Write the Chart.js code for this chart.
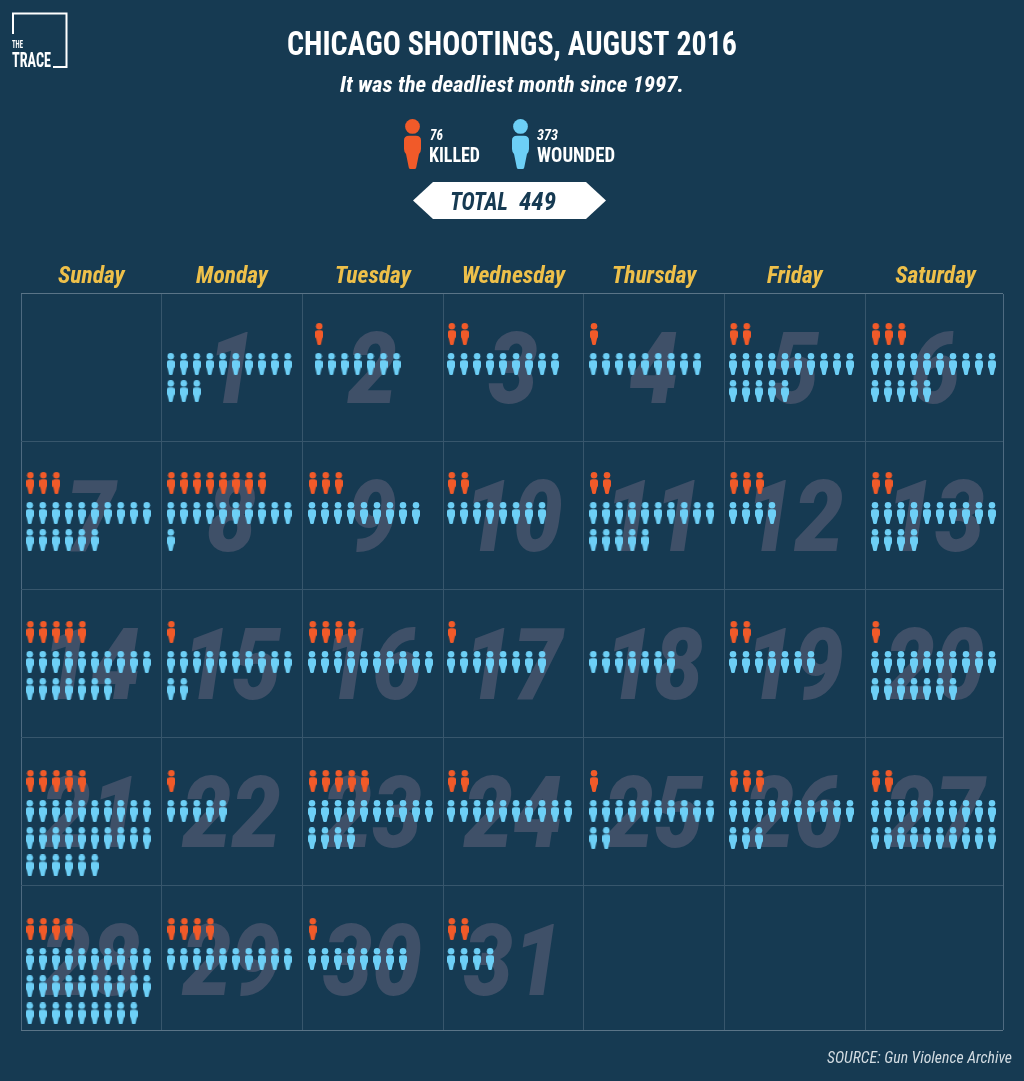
<!DOCTYPE html>
<html lang="en">
<head>
<meta charset="utf-8">
<title>Chicago Shootings, August 2016</title>
<script src="https://cdn.jsdelivr.net/npm/chart.js@4"></script>
<style>
html,body{margin:0;padding:0;background:#163a52;}
canvas{display:block;}
</style>
</head>
<body>
<canvas id="c" width="1024" height="1081"></canvas>
<script>
const weekdays = ['Sunday','Monday','Tuesday','Wednesday','Thursday','Friday','Saturday'];
const killedByDay = [0,1,2,1,2,3, 3,8,3,2,2,3,2, 5,1,4,1,0,2,1, 5,1,5,2,1,3,2, 4,4,1,2];
const woundedByDay = [13,7,9,9,15,15, 16,11,9,8,15,4,14, 17,12,10,8,7,7,17, 26,5,14,10,12,13,20, 29,10,8,4];
const firstDayColumn = 1;
const columnCount = 7;

// layout, in pixels
const FONT = '"Roboto Condensed",Roboto,sans-serif';
const BG='#163a52', RED='#f15a29', BLUE='#6dcff6', YELLOW='#eec04a', NUM='#3f5068';
const rowPx = 148, colPx = 140.7, pitchX = 13, pitchY = 27.2, perRow = 10;
const insetByColumn = [8.7,9,9.6,8,9.5,8.5,9.8];
const insetExtraDay = {2:6.5};
const killedRowTop = [40,41,42,43,43];
const woundedDrop = 30;
const plotRows = 736/rowPx;
const plotCols = 982/colPx;

function person(ctx,x,y,w,h,color){
  ctx.fillStyle=color;
  ctx.beginPath();
  const r=h*0.148;
  ctx.arc(x+w/2,y+r,r,0,Math.PI*2);
  ctx.fill();
  const t=y+h*0.335, b=y+h, l=x, R=x+w;
  ctx.beginPath();
  ctx.moveTo(x+w*0.3,t);
  ctx.lineTo(x+w*0.7,t);
  ctx.quadraticCurveTo(R,t,R,t+h*0.09);
  ctx.lineTo(R,y+h*0.6);
  ctx.quadraticCurveTo(R,y+h*0.66,x+w*0.88,y+h*0.7);
  ctx.lineTo(x+w*0.72,b-h*0.03);
  ctx.quadraticCurveTo(x+w*0.7,b,x+w*0.62,b);
  ctx.lineTo(x+w*0.38,b);
  ctx.quadraticCurveTo(x+w*0.3,b,x+w*0.28,b-h*0.03);
  ctx.lineTo(x+w*0.12,y+h*0.7);
  ctx.quadraticCurveTo(l,y+h*0.66,l,y+h*0.6);
  ctx.lineTo(l,t+h*0.09);
  ctx.quadraticCurveTo(l,t,x+w*0.3,t);
  ctx.closePath();
  ctx.fill();
}
function icon(color){
  const cv=document.createElement('canvas');
  cv.width=8;cv.height=22;
  person(cv.getContext('2d'),0,0,8,22,color);
  return cv;
}
function cell(dayIndex){
  const p=dayIndex+firstDayColumn;
  return {col:p%columnCount, week:Math.floor(p/columnCount)};
}
const killedPoints=[], woundedPoints=[];
killedByDay.forEach((n,d)=>{
  const {col,week}=cell(d);
  const inset=insetByColumn[col]+(insetExtraDay[d+1]||0)+0.7;
  for(let i=0;i<n;i++) killedPoints.push({
    x:col+(inset+i*pitchX)/colPx,
    y:week+killedRowTop[week]/rowPx
  });
});
woundedByDay.forEach((n,d)=>{
  const {col,week}=cell(d);
  const inset=insetByColumn[col]+(insetExtraDay[d+1]||0);
  for(let i=0;i<n;i++) woundedPoints.push({
    x:col+(inset+(i%perRow)*pitchX)/colPx,
    y:week+(killedRowTop[week]+woundedDrop+Math.floor(i/perRow)*pitchY)/rowPx
  });
});

// text squeezed horizontally to the given width
function fit(c,str,x,y,font,w){
  c.save();
  c.font=font;
  c.textAlign='left';
  c.textBaseline='alphabetic';
  const m=c.measureText(str).width;
  c.translate(x,y);
  c.scale(w/m,1);
  c.fillText(str,0,0);
  c.restore();
}

const dayNumbers={
  id:'dayNumbers',
  beforeDatasetsDraw(chart){
    const {ctx,scales:{x,y}}=chart;
    ctx.save();
    ctx.fillStyle=NUM;
    ctx.font='italic 900 100px Roboto, sans-serif';
    ctx.textAlign='center';
    ctx.textBaseline='alphabetic';
    killedByDay.forEach((_,d)=>{
      const {col,week}=cell(d);
      const cx=x.getPixelForValue(col+0.5)-0.5, cy=y.getPixelForValue(week+74/rowPx);
      ctx.save();
      ctx.translate(cx,cy+35.5);
      ctx.scale(0.88,1);
      ctx.fillText(String(d+1),0,0);
      ctx.restore();
    });
    ctx.restore();
  }
};
const furniture={
  id:'furniture',
  beforeDraw(chart){
    const c=chart.ctx;
    c.save();c.fillStyle=BG;c.fillRect(0,0,chart.width,chart.height);c.restore();
  },
  afterDraw(chart){
    const c=chart.ctx;
    c.save();
    // title
    c.fillStyle='#ffffff';
    fit(c,'CHICAGO SHOOTINGS, AUGUST 2016',287,54.5,'bold 32.5px '+FONT,450);
    // logo
    c.strokeStyle='#ffffff';c.lineWidth=2;
    c.beginPath();
    c.moveTo(13,34);c.lineTo(13,13.5);c.lineTo(66.5,13.5);c.lineTo(66.5,67);c.lineTo(53,67);
    c.stroke();
    fit(c,'THE',12,48,'bold 10px '+FONT,11);
    fit(c,'TRACE',12,67,'bold 21px '+FONT,39);
    // legend
    person(c,404,119,17,50,RED);
    person(c,512,119,17,50,BLUE);
    c.fillStyle='#ffffff';
    fit(c,'76',430,140,'italic bold 14px '+FONT,13);
    fit(c,'373',537,140,'italic bold 14px '+FONT,21);
    fit(c,'KILLED',429,162,'bold 19.5px '+FONT,51);
    fit(c,'WOUNDED',537,162,'bold 19.5px '+FONT,78);
    // total banner
    c.beginPath();
    c.moveTo(413,200.5);c.lineTo(433,182);c.lineTo(586,182);c.lineTo(606,200.5);c.lineTo(586,219);c.lineTo(433,219);
    c.closePath();c.fill();
    c.fillStyle=BG;
    fit(c,'TOTAL',450,210,'italic bold 25px '+FONT,58);
    fit(c,'449',519,210,'italic bold 25px '+FONT,37);
    // source
    c.fillStyle='#d3dce2';
    fit(c,'SOURCE: Gun Violence Archive',827,1063,'italic 16.5px '+FONT,185);
    c.restore();
  }
};

new Chart(document.getElementById('c'),{
  type:'scatter',
  data:{datasets:[
    {label:'Killed',data:killedPoints,pointStyle:icon(RED),pointRadius:4,xAxisID:'x',yAxisID:'y',order:1},
    {label:'Wounded',data:woundedPoints,pointStyle:icon(BLUE),pointRadius:4,xAxisID:'x',yAxisID:'y',order:2}
  ]},
  plugins:[dayNumbers,furniture],
  options:{
    responsive:false,animation:false,events:[],
    layout:{padding:{left:21,right:21,bottom:51,top:0}},
    plugins:{
      legend:{display:false},tooltip:{enabled:false},
      title:{display:false},
      subtitle:{display:true,text:'It was the deadliest month since 1997.',color:'#ffffff',
        font:{family:FONT,size:22.9,weight:'bold',style:'italic',lineHeight:1.2},padding:{top:73,bottom:147.5}}
    },
    scales:{
      days:{type:'linear',axis:'x',position:'top',min:0,max:plotCols,
        border:{display:false},grid:{display:false,drawTicks:false},
        afterBuildTicks(s){s.ticks=weekdays.map((_,i)=>({value:i+0.5}));},
        ticks:{color:YELLOW,padding:2.5,maxRotation:0,autoSkip:false,
          callback:v=>weekdays[Math.floor(v)],
          font:{family:FONT,size:23.5,weight:'bold',style:'italic'}},
        afterFit(s){s.height=46;}},
      x:{type:'linear',position:'bottom',min:0,max:plotCols,
        border:{display:false},
        afterBuildTicks(s){s.ticks=[0,1,2,3,4,5,6,plotCols].map(value=>({value}));},
        grid:{drawTicks:false,color:c=>(c.tick.value===0||c.tick.value===plotCols)?'#4e6a80':'#37566c'},
        ticks:{display:false},
        afterFit(s){s.height=0;}},
      y:{type:'linear',position:'left',reverse:true,min:0,max:plotRows,
        border:{display:false},
        grid:{drawTicks:false,color:c=>(c.tick.value===0||c.tick.value===plotRows)?'#5a7487':'#37566c'},
        ticks:{display:false},
        afterBuildTicks(s){s.ticks=[0,1,2,3,4,plotRows].map(value=>({value}));},
        afterFit(s){s.width=0;}}
    }
  }
});
</script>
</body>
</html>
